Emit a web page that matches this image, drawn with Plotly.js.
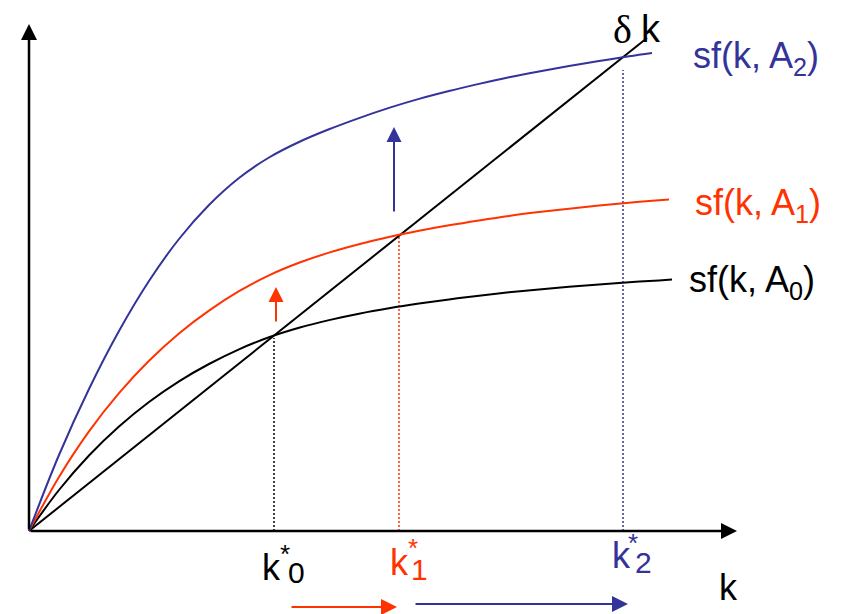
<!DOCTYPE html>
<html>
<head>
<meta charset="utf-8">
<script src="https://cdn.plot.ly/plotly-3.0.1.min.js"></script>
<style>
  html, body { margin: 0; padding: 0; background: #ffffff; }
  #chart { width: 845px; height: 614px; }
</style>
</head>
<body>
<div id="chart"></div>
<script>
// Solow diagram: saving curves sf(k, A) for three technology levels and the
// depreciation line δk. Units are arbitrary (capital per worker k, output per worker).

// sf(k, A0)
const kA0 = [0, 30, 60, 90, 120, 150, 180, 210, 240, 270, 300, 330, 360, 390, 420, 450, 480, 510, 540, 570, 600, 630, 643];
const yA0 = [0, 41, 75.5, 104.5, 129, 149.7, 167, 181.7, 193.7, 203.2, 210.9, 217.3, 222.7, 227.4, 231.6, 235.3, 238.7, 241.6, 244.2, 246.6, 248.7, 250.6, 251.4];

// sf(k, A1)
const kA1 = [0, 30, 60, 90, 120, 150, 180, 210, 240, 270, 300, 330, 360, 390, 420, 450, 480, 510, 540, 570, 600, 630, 640];
const yA1 = [0, 54.1, 99.7, 137.9, 170.3, 197.6, 220.4, 239.8, 255.7, 268.2, 278.4, 286.8, 294, 300.2, 305.7, 310.6, 315.1, 318.9, 322.3, 325.5, 328.3, 330.8, 331.6];

// sf(k, A2)
const kA2 = [0, 30, 60, 90, 120, 150, 180, 210, 240, 270, 300, 330, 360, 390, 420, 450, 480, 510, 540, 570, 600, 623];
const yA2 = [0, 76, 142, 200, 250, 292, 326, 353, 373.5, 389, 401.7, 412.9, 423.1, 432.1, 440, 447.1, 453.7, 459.6, 465, 470, 474.7, 478];

// depreciation line δk
const kDelta = [0, 618];
const yDelta = [0, 493];

// steady states k*_0, k*_1, k*_2 and the height where each dotted guide starts
const kStar = [245, 370, 594];
const kStarTop = [193, 294, 461];
const kStarIndex = ['0', '1', '2'];

const BLACK = '#000000';
const RED = '#FF3300';
const BLUE = '#333399';
const SANS = 'Liberation Sans, Arial, sans-serif';
const SERIF = 'Liberation Serif, Times New Roman, serif';
const starColors = [BLACK, RED, BLUE];

const traces = [];

// dotted guides from each steady state down to the k axis
kStar.forEach((k, i) => {
  traces.push({
    x: [k, k], y: [0, kStarTop[i]], mode: 'lines',
    line: { color: starColors[i], width: 1.5, dash: '2px,2px' },
    hoverinfo: 'skip'
  });
});

traces.push({ x: kDelta, y: yDelta, mode: 'lines', line: { color: BLACK, width: 2 } });
traces.push({ x: kA0, y: yA0, mode: 'lines', line: { color: BLACK, width: 2, shape: 'spline', smoothing: 1 } });
traces.push({ x: kA1, y: yA1, mode: 'lines', line: { color: RED, width: 2, shape: 'spline', smoothing: 1 } });
traces.push({ x: kA2, y: yA2, mode: 'lines', line: { color: BLUE, width: 2, shape: 'spline', smoothing: 1 } });

// arrow helper: tail (x0, y0) to head (x1, y1) in data units
function arrow(x0, y0, x1, y1, color, width, size) {
  return {
    x: x1, y: y1, ax: x0, ay: y0, xref: 'x', yref: 'y', axref: 'x', ayref: 'y',
    text: '', showarrow: true, arrowhead: 2, arrowsize: size, arrowwidth: width,
    arrowcolor: color, standoff: 0, startstandoff: 0
  };
}

function label(text, x, y, size, color, family, xanchor) {
  return {
    x: x, y: y, xref: 'x', yref: 'y', text: text, showarrow: false,
    xanchor: xanchor || 'center', yanchor: 'middle',
    font: { family: family || SANS, size: size, color: color }
  };
}

const annotations = [
  // axes
  arrow(0, 0, 708, 0, BLACK, 2.5, 1.28),
  arrow(0, 0, 0, 507, BLACK, 2.5, 1.28),
  // upward shifts of the saving curve
  arrow(kStar[0] + 2, 208, kStar[0] + 2, 244, RED, 2, 1.5),
  arrow(kStar[1] - 5, 318, kStar[1] - 5, 404, BLUE, 2, 1.5),
  // movement of the steady state along k
  arrow(kStar[0] + 16, -76, kStar[1] - 2, -76, RED, 2, 1.6),
  arrow(kStar[1] + 15, -73, kStar[2] + 5, -73, BLUE, 2, 1.6),
  // curve labels
  label('sf(k, A<sub>2</sub>)', 662, 473, 36, BLUE, SANS, 'left'),
  label('sf(k, A<sub>1</sub>)', 664, 326, 36, RED, SANS, 'left'),
  label('sf(k, A<sub>0</sub>)', 658, 249, 36, BLACK, SANS, 'left'),
  label('δ', 593, 502, 40, BLACK, SERIF),
  label('k', 622, 502, 38, BLACK, SANS),
  // axis label
  label('k', 699, -56, 36, BLACK, SANS)
];

// steady-state labels k*_i
const starK = [[-3, -36.5], [0, -31.5], [-2, -24.5]];
const starAst = [[11, -23], [13.5, -16.5], [10, -12]];
const starSub = [[22, -41], [20, -38], [20, -31.5]];
kStar.forEach((k, i) => {
  annotations.push(label('k', k + starK[i][0], starK[i][1], 36, starColors[i]));
  annotations.push(label('*', k + starAst[i][0], starAst[i][1], 26, starColors[i]));
  annotations.push(label(kStarIndex[i], k + starSub[i][0], starSub[i][1], 30, starColors[i]));
});

const layout = {
  width: 845, height: 614,
  margin: { l: 0, r: 0, t: 0, b: 0, pad: 0 },
  paper_bgcolor: '#ffffff', plot_bgcolor: '#ffffff',
  showlegend: false, hovermode: false,
  xaxis: { range: [-29, 816], visible: false, fixedrange: true },
  yaxis: { range: [-83, 531], visible: false, fixedrange: true },
  annotations: annotations
};

Plotly.newPlot('chart', traces, layout, { staticPlot: true, displayModeBar: false });
</script>
</body>
</html>
